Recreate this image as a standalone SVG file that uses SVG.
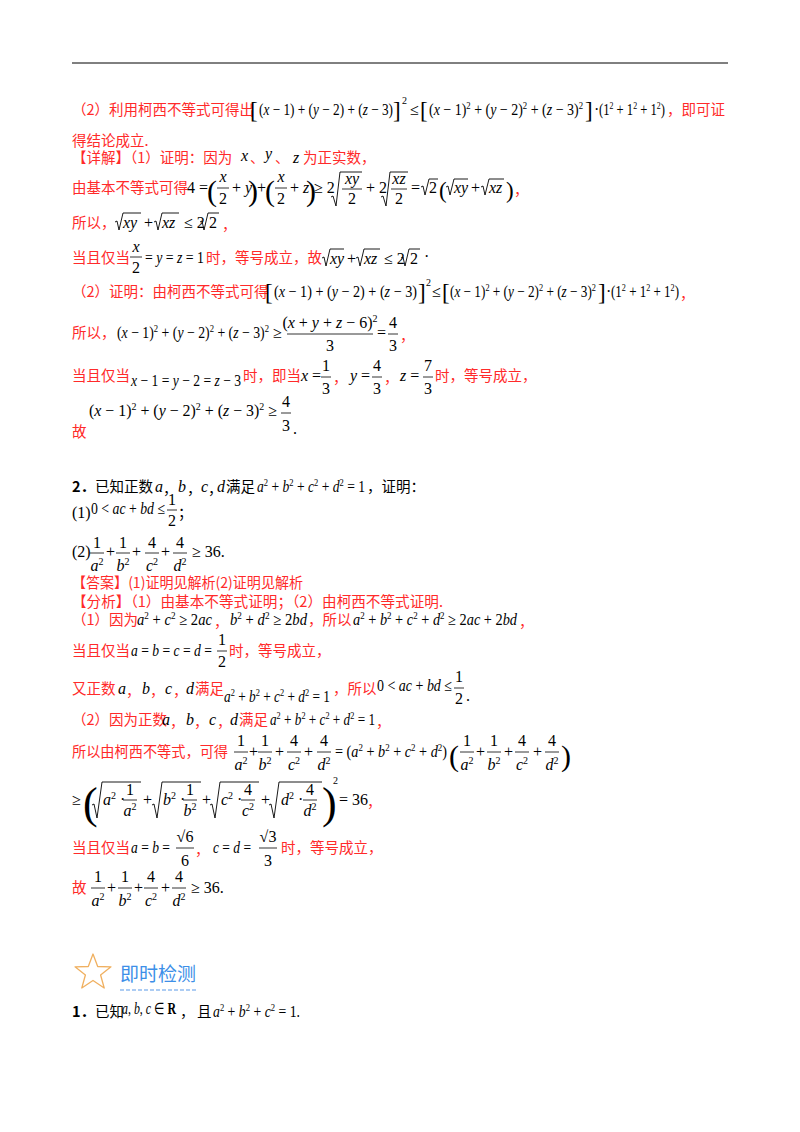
<svg xmlns="http://www.w3.org/2000/svg" width="800" height="1132" viewBox="0 0 800 1132">
<style>
.c{font-family:"Noto Sans CJK SC","Noto Sans",sans-serif;font-size:14.5px}
.r{fill:#ff2a2a}
.k{fill:#000}
.m{font-family:"Liberation Serif",serif;font-size:16px;fill:#000}
.i{font-style:italic}
.p{font-size:10px;baseline-shift:6px}
.s10{font-size:10px}
.b{font-size:23px}
.bb{font-size:30px}
.h{font-size:44px}
.fl{stroke:#000;stroke-width:0.8}
.rad{fill:none;stroke:#000;stroke-width:0.9}
.mid{text-anchor:middle}
</style>
<rect width="800" height="1132" fill="#fff"/>
<line x1="72" y1="63" x2="728" y2="63" stroke="#000" stroke-width="1"/>

<g id="row1">
<text class="c r" x="72" y="115">（2）利用柯西不等式可得出</text>
<text class="m b" x="250" y="118">[</text>
<text class="m" x="259" y="115" textLength="134" lengthAdjust="spacingAndGlyphs">(<tspan class="i">x</tspan> − 1) + (<tspan class="i">y</tspan> − 2) + (<tspan class="i">z</tspan> − 3)</text>
<text class="m b" x="393" y="118">]</text>
<text class="m s10" x="402" y="104">2</text>
<text class="m" x="410" y="115">≤</text>
<text class="m b" x="420" y="118">[</text>
<text class="m" x="429" y="115" textLength="154" lengthAdjust="spacingAndGlyphs">(<tspan class="i">x</tspan> − 1)<tspan class="p">2</tspan> + (<tspan class="i">y</tspan> − 2)<tspan class="p">2</tspan> + (<tspan class="i">z</tspan> − 3)<tspan class="p">2</tspan></text>
<text class="m b" x="585" y="118">]</text>
<text class="m" x="594" y="115">·</text>
<text class="m" x="599" y="115" textLength="66" lengthAdjust="spacingAndGlyphs">(1<tspan class="p">2</tspan> + 1<tspan class="p">2</tspan> + 1<tspan class="p">2</tspan>)</text>
<text class="c r" x="667" y="115">，即可证</text>
</g>
<g id="row2"><text class="c r" x="72" y="146">得结论成立.</text></g>
<g id="row3">
<text class="c r" x="72" y="163">【详解】（1）证明：因为</text>
<text class="m i" x="241" y="161">x</text><text class="c r" x="250" y="163">、</text>
<text class="m i" x="265" y="159">y</text><text class="c r" x="275" y="163">、</text>
<text class="m i" x="293" y="163">z</text>
<text class="c r" x="303" y="163">为正实数，</text>
</g>
<g id="row4">
<text class="c r" x="72" y="193">由基本不等式可得</text>
<text class="m" x="187" y="193">4 =</text>
<text class="m bb" x="207" y="201">(</text>
<text class="m i mid" x="223" y="182">x</text><line class="fl" x1="217" y1="188" x2="229" y2="188"/><text class="m mid" x="223" y="204">2</text>
<text class="m" x="232" y="193">+ <tspan class="i">y</tspan></text>
<text class="m bb" x="248" y="201">)</text>
<text class="m" x="257" y="193">+</text>
<text class="m bb" x="265" y="201">(</text>
<text class="m i mid" x="281" y="182">x</text><line class="fl" x1="275" y1="188" x2="287" y2="188"/><text class="m mid" x="281" y="204">2</text>
<text class="m" x="290" y="193">+ <tspan class="i">z</tspan></text>
<text class="m bb" x="306" y="201">)</text>
<text class="m" x="314" y="193">≥ 2</text>
<path class="rad" d="M331 197 L333 196 L336 206 L340 172 L362 172"/>
<text class="m i mid" x="352" y="184">xy</text><line class="fl" x1="342" y1="189" x2="362" y2="189"/><text class="m mid" x="352" y="204">2</text>
<text class="m" x="366" y="193">+ 2</text>
<path class="rad" d="M381 197 L383 196 L386 206 L390 172 L408 172"/>
<text class="m i mid" x="399" y="184">xz</text><line class="fl" x1="391" y1="189" x2="407" y2="189"/><text class="m mid" x="399" y="204">2</text>
<text class="m" x="411" y="193">=</text>
<path class="rad" d="M421 187 L423 186 L425 195 L429 179 L438 179"/>
<text class="m" x="429" y="193">2</text>
<text class="m b" x="439" y="198">(</text>
<path class="rad" d="M446 187 L448 186 L450 195 L454 179 L468 179"/>
<text class="m i" x="454" y="193">xy</text>
<text class="m" x="471" y="193">+</text>
<path class="rad" d="M481 187 L483 186 L485 195 L489 179 L504 179"/>
<text class="m i" x="489" y="193">xz</text>
<text class="m b" x="506" y="198">)</text>
<text class="c r" x="514" y="195">，</text>
</g>
<g id="row5">
<text class="c r" x="72" y="228">所以，</text>
<path class="rad" d="M115 222 L117 221 L119 230 L123 213 L141 213"/>
<text class="m i" x="123" y="228">xy</text>
<text class="m" x="144" y="228">+</text>
<path class="rad" d="M154 222 L156 221 L158 230 L162 213 L179 213"/>
<text class="m i" x="162" y="228">xz</text>
<text class="m" x="184" y="228">≤ 2</text>
<path class="rad" d="M200 222 L202 221 L204 230 L208 213 L219 213"/>
<text class="m" x="209" y="228">2</text>
<text class="c r" x="222" y="230">，</text>
</g>
<g id="row6">
<text class="c r" x="72" y="263">当且仅当</text>
<text class="m i mid" x="136" y="252">x</text><line class="fl" x1="130" y1="257" x2="142" y2="257"/><text class="m mid" x="136" y="273">2</text>
<text class="m" x="145" y="263" textLength="59" lengthAdjust="spacingAndGlyphs">= <tspan class="i">y</tspan> = <tspan class="i">z</tspan> = 1</text>
<text class="c r" x="206" y="263">时，等号成立，故</text>
<path class="rad" d="M322 258 L324 257 L326 266 L330 249 L344 249"/>
<text class="m i" x="330" y="264">xy</text>
<text class="m" x="347" y="264">+</text>
<path class="rad" d="M356 258 L358 257 L360 266 L364 249 L380 249"/>
<text class="m i" x="364" y="264">xz</text>
<text class="m" x="384" y="264">≤ 2</text>
<path class="rad" d="M401 258 L403 257 L405 266 L409 249 L420 249"/>
<text class="m" x="410" y="264">2</text>
<text class="m" x="424" y="262">·</text>
</g>
<g id="row7">
<text class="c r" x="72" y="297">（2）证明：由柯西不等式可得</text>
<text class="m b" x="265" y="300">[</text>
<text class="m" x="274" y="297" textLength="143" lengthAdjust="spacingAndGlyphs">(<tspan class="i">x</tspan> − 1) + (<tspan class="i">y</tspan> − 2) + (<tspan class="i">z</tspan> − 3)</text>
<text class="m b" x="418" y="300">]</text>
<text class="m s10" x="426" y="286">2</text>
<text class="m" x="432" y="297">≤</text>
<text class="m b" x="442" y="300">[</text>
<text class="m" x="450" y="297" textLength="146" lengthAdjust="spacingAndGlyphs">(<tspan class="i">x</tspan> − 1)<tspan class="p">2</tspan> + (<tspan class="i">y</tspan> − 2)<tspan class="p">2</tspan> + (<tspan class="i">z</tspan> − 3)<tspan class="p">2</tspan></text>
<text class="m b" x="598" y="300">]</text>
<text class="m" x="606" y="297">·</text>
<text class="m" x="611" y="297" textLength="68" lengthAdjust="spacingAndGlyphs">(1<tspan class="p">2</tspan> + 1<tspan class="p">2</tspan> + 1<tspan class="p">2</tspan>)</text>
<text class="c r" x="680" y="299">，</text>
</g>
<g id="row8">
<text class="c r" x="72" y="338">所以，</text>
<text class="m" x="117" y="338" textLength="152" lengthAdjust="spacingAndGlyphs">(<tspan class="i">x</tspan> − 1)<tspan class="p">2</tspan> + (<tspan class="i">y</tspan> − 2)<tspan class="p">2</tspan> + (<tspan class="i">z</tspan> − 3)<tspan class="p">2</tspan></text>
<text class="m" x="273" y="338">≥</text>
<text class="m mid" x="330" y="328">(<tspan class="i">x</tspan> + <tspan class="i">y</tspan> + <tspan class="i">z</tspan> − 6)<tspan class="p">2</tspan></text>
<line class="fl" x1="287" y1="334" x2="373" y2="334"/>
<text class="m mid" x="330" y="351">3</text>
<text class="m" x="377" y="338">=</text>
<text class="m mid" x="393" y="328">4</text><line class="fl" x1="388" y1="334" x2="398" y2="334"/><text class="m mid" x="393" y="351">3</text>
<text class="c r" x="400" y="341">，</text>
</g>
<g id="row9">
<text class="c r" x="72" y="381">当且仅当</text>
<text class="m" x="131" y="386" textLength="110" lengthAdjust="spacingAndGlyphs"><tspan class="i">x</tspan> − 1 = <tspan class="i">y</tspan> − 2 = <tspan class="i">z</tspan> − 3</text>
<text class="c r" x="243" y="381">时，即当</text>
<text class="m" x="301" y="381"><tspan class="i">x</tspan> =</text>
<text class="m mid" x="326" y="371">1</text><line class="fl" x1="321" y1="377" x2="331" y2="377"/><text class="m mid" x="326" y="394">3</text>
<text class="c r" x="333" y="383">，</text>
<text class="m" x="350" y="381"><tspan class="i">y</tspan> =</text>
<text class="m mid" x="377" y="371">4</text><line class="fl" x1="372" y1="377" x2="382" y2="377"/><text class="m mid" x="377" y="394">3</text>
<text class="c r" x="384" y="383">，</text>
<text class="m" x="400" y="381"><tspan class="i">z</tspan> =</text>
<text class="m mid" x="428" y="371">7</text><line class="fl" x1="423" y1="377" x2="433" y2="377"/><text class="m mid" x="428" y="394">3</text>
<text class="c r" x="435" y="381">时，等号成立，</text>
</g>
<g id="row10">
<text class="m" x="89" y="416" textLength="188" lengthAdjust="spacingAndGlyphs">(<tspan class="i">x</tspan> − 1)<tspan class="p">2</tspan> + (<tspan class="i">y</tspan> − 2)<tspan class="p">2</tspan> + (<tspan class="i">z</tspan> − 3)<tspan class="p">2</tspan> ≥</text>
<text class="m mid" x="286" y="407">4</text><line class="fl" x1="281" y1="413" x2="291" y2="413"/><text class="m mid" x="286" y="431">3</text>
<text class="c r" x="72" y="437">故</text>
<text class="m" x="293" y="434">.</text>
</g>

<g id="q2">
<text class="c k" x="72" y="492"><tspan font-weight="bold">2．</tspan>已知正数</text>
<text class="m i" x="155" y="492">a</text><text class="c k" x="163" y="494">，</text>
<text class="m i" x="178" y="492">b</text><text class="c k" x="187" y="494">，</text>
<text class="m i" x="201" y="492">c</text><text class="c k" x="208" y="494">，</text>
<text class="m i" x="217" y="492">d</text>
<text class="c k" x="226" y="492">满足</text>
<text class="m" x="257" y="492" textLength="108" lengthAdjust="spacingAndGlyphs"><tspan class="i">a</tspan><tspan class="p">2</tspan> + <tspan class="i">b</tspan><tspan class="p">2</tspan> + <tspan class="i">c</tspan><tspan class="p">2</tspan> + <tspan class="i">d</tspan><tspan class="p">2</tspan> = 1</text>
<text class="c k" x="367" y="492">，证明：</text>
<text class="m" x="72" y="518">(1)</text>
<text class="m" x="91" y="514" textLength="74" lengthAdjust="spacingAndGlyphs">0 &lt; <tspan class="i">ac</tspan> + <tspan class="i">bd</tspan> ≤</text>
<text class="m mid" x="172" y="505">1</text><line class="fl" x1="167" y1="510" x2="177" y2="510"/><text class="m mid" x="172" y="526">2</text>
<text class="c k" x="178" y="518">；</text>
<text class="m" x="72" y="557">(2)</text>
<text class="m mid" x="97" y="548">1</text><line class="fl" x1="90" y1="553" x2="104" y2="553"/><text class="m mid" x="97" y="571"><tspan class="i">a</tspan><tspan class="p">2</tspan></text>
<text class="m" x="106" y="557">+</text>
<text class="m mid" x="123" y="548">1</text><line class="fl" x1="116" y1="553" x2="130" y2="553"/><text class="m mid" x="123" y="571"><tspan class="i">b</tspan><tspan class="p">2</tspan></text>
<text class="m" x="132" y="557">+</text>
<text class="m mid" x="152" y="548">4</text><line class="fl" x1="145" y1="553" x2="159" y2="553"/><text class="m mid" x="152" y="571"><tspan class="i">c</tspan><tspan class="p">2</tspan></text>
<text class="m" x="161" y="557">+</text>
<text class="m mid" x="180" y="548">4</text><line class="fl" x1="173" y1="553" x2="187" y2="553"/><text class="m mid" x="180" y="571"><tspan class="i">d</tspan><tspan class="p">2</tspan></text>
<text class="m" x="192" y="557">≥ 36.</text>
</g>

<g id="answer">
<text class="c r" x="72" y="588" textLength="231" lengthAdjust="spacingAndGlyphs">【答案】(1)证明见解析(2)证明见解析</text>
<text class="c r" x="72" y="607" textLength="371" lengthAdjust="spacingAndGlyphs">【分析】（1）由基本不等式证明；（2）由柯西不等式证明.</text>
</g>
<g id="row16">
<text class="c r" x="72" y="625">（1）因为</text>
<text class="m" x="137" y="625" textLength="75" lengthAdjust="spacingAndGlyphs"><tspan class="i">a</tspan><tspan class="p">2</tspan> + <tspan class="i">c</tspan><tspan class="p">2</tspan> ≥ 2<tspan class="i">ac</tspan></text>
<text class="c r" x="214" y="627">，</text>
<text class="m" x="230" y="625" textLength="77" lengthAdjust="spacingAndGlyphs"><tspan class="i">b</tspan><tspan class="p">2</tspan> + <tspan class="i">d</tspan><tspan class="p">2</tspan> ≥ 2<tspan class="i">bd</tspan></text>
<text class="c r" x="308" y="625">，所以</text>
<text class="m" x="353" y="625" textLength="164" lengthAdjust="spacingAndGlyphs"><tspan class="i">a</tspan><tspan class="p">2</tspan> + <tspan class="i">b</tspan><tspan class="p">2</tspan> + <tspan class="i">c</tspan><tspan class="p">2</tspan> + <tspan class="i">d</tspan><tspan class="p">2</tspan> ≥ 2<tspan class="i">ac</tspan> + 2<tspan class="i">bd</tspan></text>
<text class="c r" x="519" y="627">，</text>
</g>
<g id="row17">
<text class="c r" x="72" y="656">当且仅当</text>
<text class="m" x="131" y="656" textLength="81" lengthAdjust="spacingAndGlyphs"><tspan class="i">a</tspan> = <tspan class="i">b</tspan> = <tspan class="i">c</tspan> = <tspan class="i">d</tspan> =</text>
<text class="m mid" x="222" y="645">1</text><line class="fl" x1="217" y1="651" x2="227" y2="651"/><text class="m mid" x="222" y="667">2</text>
<text class="c r" x="229" y="656">时，等号成立，</text>
</g>
<g id="row18">
<text class="c r" x="72" y="694">又正数</text>
<text class="m i r" x="118" y="694">a</text><text class="c r" x="126" y="696">，</text>
<text class="m i r" x="142" y="694">b</text><text class="c r" x="150" y="696">，</text>
<text class="m i r" x="165" y="694">c</text><text class="c r" x="173" y="696">，</text>
<text class="m i r" x="186" y="694">d</text>
<text class="c r" x="195" y="694">满足</text>
<text class="m" x="224" y="702" textLength="106" lengthAdjust="spacingAndGlyphs"><tspan class="i">a</tspan><tspan class="p">2</tspan> + <tspan class="i">b</tspan><tspan class="p">2</tspan> + <tspan class="i">c</tspan><tspan class="p">2</tspan> + <tspan class="i">d</tspan><tspan class="p">2</tspan> = 1</text>
<text class="c r" x="333" y="694">，所以</text>
<text class="m" x="377" y="691" textLength="75" lengthAdjust="spacingAndGlyphs">0 &lt; <tspan class="i">ac</tspan> + <tspan class="i">bd</tspan> ≤</text>
<text class="m mid" x="459" y="682">1</text><line class="fl" x1="454" y1="688" x2="464" y2="688"/><text class="m mid" x="459" y="704">2</text>
<text class="m" x="466" y="701">.</text>
</g>
<g id="row19">
<text class="c r" x="72" y="725">（2）因为正数</text>
<text class="m i r" x="162" y="725">a</text><text class="c r" x="170" y="727">，</text>
<text class="m i r" x="186" y="725">b</text><text class="c r" x="194" y="727">，</text>
<text class="m i r" x="209" y="725">c</text><text class="c r" x="217" y="727">，</text>
<text class="m i r" x="230" y="725">d</text>
<text class="c r" x="239" y="725">满足</text>
<text class="m" x="270" y="725" textLength="105" lengthAdjust="spacingAndGlyphs"><tspan class="i">a</tspan><tspan class="p">2</tspan> + <tspan class="i">b</tspan><tspan class="p">2</tspan> + <tspan class="i">c</tspan><tspan class="p">2</tspan> + <tspan class="i">d</tspan><tspan class="p">2</tspan> = 1</text>
<text class="c r" x="376" y="727">，</text>
</g>
<g id="row20">
<text class="c r" x="72" y="757" textLength="156" lengthAdjust="spacingAndGlyphs">所以由柯西不等式，可得</text>
<text class="m mid" x="241" y="746">1</text><line class="fl" x1="234" y1="752" x2="248" y2="752"/><text class="m mid" x="241" y="770"><tspan class="i">a</tspan><tspan class="p">2</tspan></text>
<text class="m" x="249" y="757">+</text>
<text class="m mid" x="265" y="746">1</text><line class="fl" x1="258" y1="752" x2="272" y2="752"/><text class="m mid" x="265" y="770"><tspan class="i">b</tspan><tspan class="p">2</tspan></text>
<text class="m" x="275" y="757">+</text>
<text class="m mid" x="294" y="746">4</text><line class="fl" x1="287" y1="752" x2="301" y2="752"/><text class="m mid" x="294" y="770"><tspan class="i">c</tspan><tspan class="p">2</tspan></text>
<text class="m" x="304" y="757">+</text>
<text class="m mid" x="324" y="746">4</text><line class="fl" x1="317" y1="752" x2="331" y2="752"/><text class="m mid" x="324" y="770"><tspan class="i">d</tspan><tspan class="p">2</tspan></text>
<text class="m" x="335" y="757" textLength="112" lengthAdjust="spacingAndGlyphs">= (<tspan class="i">a</tspan><tspan class="p">2</tspan> + <tspan class="i">b</tspan><tspan class="p">2</tspan> + <tspan class="i">c</tspan><tspan class="p">2</tspan> + <tspan class="i">d</tspan><tspan class="p">2</tspan>)</text>
<text class="m bb" x="449" y="766">(</text>
<text class="m mid" x="467" y="746">1</text><line class="fl" x1="460" y1="752" x2="474" y2="752"/><text class="m mid" x="467" y="770"><tspan class="i">a</tspan><tspan class="p">2</tspan></text>
<text class="m" x="476" y="757">+</text>
<text class="m mid" x="494" y="746">1</text><line class="fl" x1="487" y1="752" x2="501" y2="752"/><text class="m mid" x="494" y="770"><tspan class="i">b</tspan><tspan class="p">2</tspan></text>
<text class="m" x="504" y="757">+</text>
<text class="m mid" x="522" y="746">4</text><line class="fl" x1="515" y1="752" x2="529" y2="752"/><text class="m mid" x="522" y="770"><tspan class="i">c</tspan><tspan class="p">2</tspan></text>
<text class="m" x="533" y="757">+</text>
<text class="m mid" x="552" y="746">4</text><line class="fl" x1="545" y1="752" x2="559" y2="752"/><text class="m mid" x="552" y="770"><tspan class="i">d</tspan><tspan class="p">2</tspan></text>
<text class="m bb" x="561" y="766">)</text>
</g>
<g id="row21">
<text class="m" x="72" y="805">≥</text>
<text class="m h" x="83" y="818">(</text>
<path class="rad" d="M92 805 L94 804 L97 818 L102 782 L141 782"/>
<text class="m" x="103" y="805"><tspan class="i">a</tspan><tspan class="p">2</tspan> ·</text>
<text class="m mid" x="130" y="795">1</text><line class="fl" x1="123" y1="800" x2="137" y2="800"/><text class="m mid" x="130" y="816"><tspan class="i">a</tspan><tspan class="p">2</tspan></text>
<text class="m" x="143" y="805">+</text>
<path class="rad" d="M152 805 L154 804 L157 818 L162 782 L201 782"/>
<text class="m" x="163" y="805"><tspan class="i">b</tspan><tspan class="p">2</tspan> ·</text>
<text class="m mid" x="190" y="795">1</text><line class="fl" x1="183" y1="800" x2="197" y2="800"/><text class="m mid" x="190" y="816"><tspan class="i">b</tspan><tspan class="p">2</tspan></text>
<text class="m" x="202" y="805">+</text>
<path class="rad" d="M210 805 L212 804 L215 818 L220 782 L259 782"/>
<text class="m" x="221" y="805"><tspan class="i">c</tspan><tspan class="p">2</tspan> ·</text>
<text class="m mid" x="248" y="795">4</text><line class="fl" x1="241" y1="800" x2="255" y2="800"/><text class="m mid" x="248" y="816"><tspan class="i">c</tspan><tspan class="p">2</tspan></text>
<text class="m" x="261" y="805">+</text>
<path class="rad" d="M269 805 L271 804 L274 818 L279 782 L322 782"/>
<text class="m" x="281" y="805"><tspan class="i">d</tspan><tspan class="p">2</tspan> ·</text>
<text class="m mid" x="310" y="795">4</text><line class="fl" x1="303" y1="800" x2="317" y2="800"/><text class="m mid" x="310" y="816"><tspan class="i">d</tspan><tspan class="p">2</tspan></text>
<text class="m h" x="322" y="818">)</text>
<text class="m s10" x="333" y="784">2</text>
<text class="m" x="339" y="805">= 36</text>
<text class="c r" x="367" y="807">，</text>
</g>
<g id="row22">
<text class="c r" x="72" y="853">当且仅当</text>
<text class="m" x="131" y="853" textLength="39" lengthAdjust="spacingAndGlyphs"><tspan class="i">a</tspan> = <tspan class="i">b</tspan> =</text>
<text class="m mid" x="185" y="842">√6</text><line class="fl" x1="176" y1="848" x2="194" y2="848"/><text class="m mid" x="185" y="866">6</text>
<text class="c r" x="195" y="855">，</text>
<text class="m" x="213" y="853" textLength="38" lengthAdjust="spacingAndGlyphs"><tspan class="i">c</tspan> = <tspan class="i">d</tspan> =</text>
<text class="m mid" x="268" y="842">√3</text><line class="fl" x1="259" y1="848" x2="277" y2="848"/><text class="m mid" x="268" y="866">3</text>
<text class="c r" x="281" y="853">时，等号成立，</text>
</g>
<g id="row23">
<text class="c r" x="72" y="893">故</text>
<text class="m mid" x="98" y="882">1</text><line class="fl" x1="91" y1="888" x2="105" y2="888"/><text class="m mid" x="98" y="906"><tspan class="i">a</tspan><tspan class="p">2</tspan></text>
<text class="m" x="107" y="893">+</text>
<text class="m mid" x="125" y="882">1</text><line class="fl" x1="118" y1="888" x2="132" y2="888"/><text class="m mid" x="125" y="906"><tspan class="i">b</tspan><tspan class="p">2</tspan></text>
<text class="m" x="134" y="893">+</text>
<text class="m mid" x="151" y="882">4</text><line class="fl" x1="144" y1="888" x2="158" y2="888"/><text class="m mid" x="151" y="906"><tspan class="i">c</tspan><tspan class="p">2</tspan></text>
<text class="m" x="161" y="893">+</text>
<text class="m mid" x="179" y="882">4</text><line class="fl" x1="172" y1="888" x2="186" y2="888"/><text class="m mid" x="179" y="906"><tspan class="i">d</tspan><tspan class="p">2</tspan></text>
<text class="m" x="191" y="893">≥ 36.</text>
</g>

<g id="heading">
<polygon points="93,954 97.7,966.5 111,966.8 100.6,975 104.2,988 93,980.5 81.8,988 85.4,975 75,966.8 88.3,966.5" fill="none" stroke="#f0b060" stroke-width="1.3" stroke-linejoin="round"/>
<text x="120" y="981" font-family="Noto Sans CJK SC,sans-serif" font-size="19" fill="#3d8fe8">即时检测</text>
<line x1="120" y1="990" x2="197" y2="990" stroke="#5a9ae8" stroke-width="1.2" stroke-dasharray="4,2"/>
</g>
<g id="q1">
<text class="c k" x="72" y="1017"><tspan font-weight="bold">1．</tspan>已知</text>
<text class="m" x="122" y="1014" textLength="54" lengthAdjust="spacingAndGlyphs"><tspan class="i">a</tspan>, <tspan class="i">b</tspan>, <tspan class="i">c</tspan> ∈ <tspan font-weight="bold">R</tspan></text>
<text class="c k" x="180" y="1017">，</text>
<text class="c k" x="197" y="1017">且</text>
<text class="m" x="213" y="1017" textLength="87" lengthAdjust="spacingAndGlyphs"><tspan class="i">a</tspan><tspan class="p">2</tspan> + <tspan class="i">b</tspan><tspan class="p">2</tspan> + <tspan class="i">c</tspan><tspan class="p">2</tspan> = 1.</text>
</g>
</svg>
